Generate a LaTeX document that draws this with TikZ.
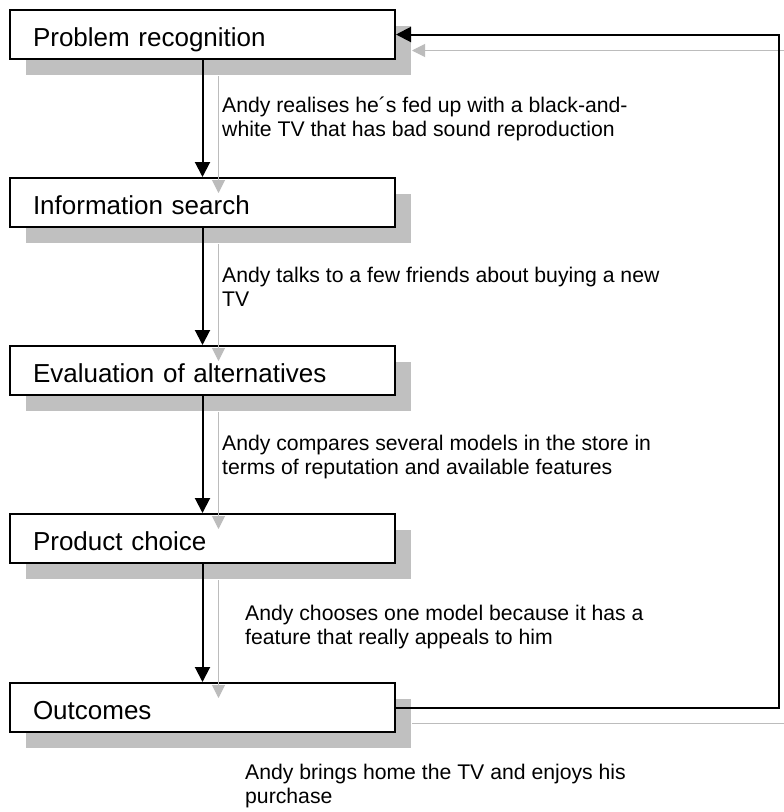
\documentclass[tikz,border=0pt]{standalone}
\usepackage{fontspec}
\setmainfont{Liberation Sans}
\usepackage{xcolor}
\usepackage{tikz}
\usetikzlibrary{positioning,arrows.meta,shadows}
\definecolor{shadegray}{RGB}{192, 192, 192}
\definecolor{linkgray}{RGB}{188, 188, 188}

\begin{document}
\begin{tikzpicture}[x=1pt, y=-1pt,
  stage/.style={draw, line width=2pt, fill=white, minimum width=385pt, minimum height=49pt,
    inner xsep=23pt, text width=339pt, align=left, text height=24pt, text depth=1pt,
    font=\fontsize{26}{30}\selectfont,
    drop shadow={shadow xshift=16pt, shadow yshift=-16pt, opacity=1, fill=shadegray, draw=none}},
  link/.style={-{Triangle[length=15pt, width=15pt]}, line width=2pt},
  linkshade/.style={-{Triangle[length=13pt, width=13pt]}, line width=1pt, draw=linkgray},
  note/.style={anchor=north west, inner sep=0pt, align=left, font=\fontsize{21.2}{24}\selectfont}]
\path[use as bounding box, fill=white] (0,0) rectangle (784,812);

\node[stage, anchor=north west] (rec) at (9,9) {Problem recognition};
\node[stage, below=117pt of rec] (info) {Information search};
\node[stage, below=117pt of info] (eval) {Evaluation of alternatives};
\node[stage, below=117pt of eval] (choice) {Product choice};
\node[stage, below=118pt of choice] (out) {Outcomes};

\node[note] (n1) at (222,97) {Andy realises he´s fed up with a black-and-\\white TV that has bad sound reproduction};
\node[note] (n2) at (222,267) {Andy talks to a few friends about buying a new\\TV};
\node[note] (n3) at (222,435) {Andy compares several models in the store in\\terms of reputation and available features};
\node[note] (n4) at (245,605) {Andy chooses one model because it has a\\feature that really appeals to him};
\node[note] (n5) at (245,764) {Andy brings home the TV and enjoys his\\purchase};

\coordinate (turn) at ([xshift=383pt]out.east);

% shadows of the connectors
\begin{scope}[transform canvas={xshift=16pt, yshift=-16pt}]
\draw[linkshade] (rec.south) -- (info.north);
\draw[linkshade] (info.south) -- (eval.north);
\draw[linkshade] (eval.south) -- (choice.north);
\draw[linkshade] (choice.south) -- (out.north);
\draw[linkshade] (out.east) -- (turn) |- (rec.east);
\end{scope}

\draw[link] (rec.south) -- (info.north);
\draw[link] (info.south) -- (eval.north);
\draw[link] (eval.south) -- (choice.north);
\draw[link] (choice.south) -- (out.north);
\draw[link] (out.east) -- (turn) |- (rec.east);
\end{tikzpicture}
\end{document}
